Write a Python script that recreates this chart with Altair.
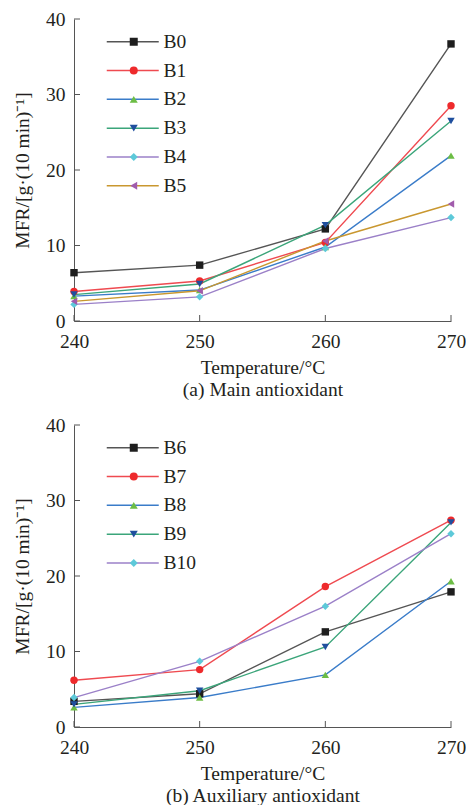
import altair as alt
import pandas as pd

FONT = "Liberation Serif"
TXT = "#231f20"
AXC = "#555555"

temps = [240, 250, 260, 270]
y_ticks = [0, 10, 20, 30, 40]

names_a = ["B0", "B1", "B2", "B3", "B4", "B5"]
B0 = [6.4, 7.4, 12.2, 36.7]
B1 = [3.9, 5.3, 10.4, 28.5]
B2 = [3.3, 4.1, 9.8, 21.9]
B3 = [3.5, 4.9, 12.7, 26.5]
B4 = [2.2, 3.2, 9.6, 13.7]
B5 = [2.6, 4.0, 10.6, 15.5]
vals_a = [B0, B1, B2, B3, B4, B5]

names_b = ["B6", "B7", "B8", "B9", "B10"]
B6 = [3.4, 4.4, 12.6, 17.9]
B7 = [6.2, 7.6, 18.6, 27.4]
B8 = [2.6, 3.9, 6.9, 19.3]
B9 = [3.0, 4.8, 10.6, 27.1]
B10 = [3.9, 8.7, 16.0, 25.6]
vals_b = [B6, B7, B8, B9, B10]

line_colors = ["#555555", "#ef4a50", "#3a7cc9", "#3ba57a", "#9b80c8", "#c9972f"]
marker_colors = ["#1e1e1e", "#ee2a2c", "#6cbd45", "#1f4f9e", "#5dc9d9", "#a15bac"]
shapes = ["square", "circle", "triangle-up", "triangle-down", "diamond", "triangle-left"]

W, H = 377, 302
FS = 19.5


def panel(names, vals, caption):
    k = len(names)
    mnames = [n + " " for n in names]
    df = pd.DataFrame(
        [{"T": t, "MFR": v, "series": n, "marker": n + " "}
         for n, vs in zip(names, vals) for t, v in zip(temps, vs)]
    )
    xs = alt.Scale(domain=[240, 270], nice=False, zero=False)
    ys = alt.Scale(domain=[0, 40], nice=False)

    legA = alt.Legend(
        orient="none", legendX=49, legendY=13, title=None,
        symbolType="M-5.2,0H5.2", symbolSize=100, symbolStrokeWidth=1.5,
        labelFont=FONT, labelFontSize=FS, labelColor=TXT, labelOffset=21,
        rowPadding=7.8, padding=0,
    )
    legB = alt.Legend(
        orient="none", legendX=50, legendY=13, title=None,
        symbolSize=64, symbolStrokeWidth=0, labelExpr="''",
        labelFont=FONT, labelFontSize=FS, labelOffset=8,
        rowPadding=7.8, padding=0,
    )

    x_axis = alt.Axis(
        values=temps, format="d", labelPadding=11, labelFlush=False,
        labelFont=FONT, labelFontSize=FS, titleFont=FONT, titleFontSize=FS,
        title=["Temperature/°C", caption], titlePadding=8, titleLineHeight=22,
    )
    y_axis = alt.Axis(
        values=y_ticks, format="d", labelPadding=9, labelFlush=False,
        labelFont=FONT, labelFontSize=FS, titleFont=FONT, titleFontSize=FS,
        title="MFR/[g·(10 min)⁻¹]", titlePadding=13,
    )

    lines = alt.Chart(df).mark_line(strokeWidth=1.4).encode(
        x=alt.X("T:Q", scale=xs, axis=x_axis),
        y=alt.Y("MFR:Q", scale=ys, axis=y_axis),
        stroke=alt.Stroke("series:N", scale=alt.Scale(domain=names, range=line_colors[:k]), legend=legA),
    )
    points = alt.Chart(df).mark_point(filled=True, size=55, opacity=1).encode(
        x=alt.X("T:Q", scale=xs, axis=x_axis),
        y=alt.Y("MFR:Q", scale=ys, axis=y_axis),
        fill=alt.Fill("marker:N", scale=alt.Scale(domain=mnames, range=marker_colors[:k]), legend=legB),
        shape=alt.Shape("marker:N", scale=alt.Scale(domain=mnames, range=shapes[:k]), legend=legB),
    )
    xt = alt.Chart(pd.DataFrame({"T": temps})).mark_rule(color=AXC, strokeWidth=1).encode(
        x=alt.X("T:Q", scale=xs, axis=x_axis), y=alt.value(H), y2=alt.value(H - 6)
    )
    yt = alt.Chart(pd.DataFrame({"MFR": y_ticks})).mark_rule(color=AXC, strokeWidth=1).encode(
        y=alt.Y("MFR:Q", scale=ys, axis=y_axis), x=alt.value(0), x2=alt.value(6)
    )
    return alt.layer(lines, points, xt, yt).properties(width=W, height=H)


top = panel(names_a, vals_a, "(a) Main antioxidant")
bottom = panel(names_b, vals_b, "(b) Auxiliary antioxidant")

chart = (
    alt.vconcat(top, bottom, spacing=16)
    .resolve_scale(stroke="independent", fill="independent", shape="independent")
    .resolve_legend(stroke="independent", fill="independent", shape="independent")
    .properties(padding={"left": 12, "top": 9, "right": 0, "bottom": 0}, background="white")
    .configure(font=FONT)
    .configure_view(strokeWidth=0)
    .configure_axis(
        grid=False, ticks=False, domainColor=AXC, domainWidth=1,
        labelFont=FONT, labelFontSize=FS, labelColor=TXT,
        titleFont=FONT, titleFontSize=FS, titleFontWeight="normal", titleColor=TXT,
    )
    .configure_legend(labelFont=FONT)
)

chart.save("out.html", embed_options={"renderer": "svg", "actions": False})
